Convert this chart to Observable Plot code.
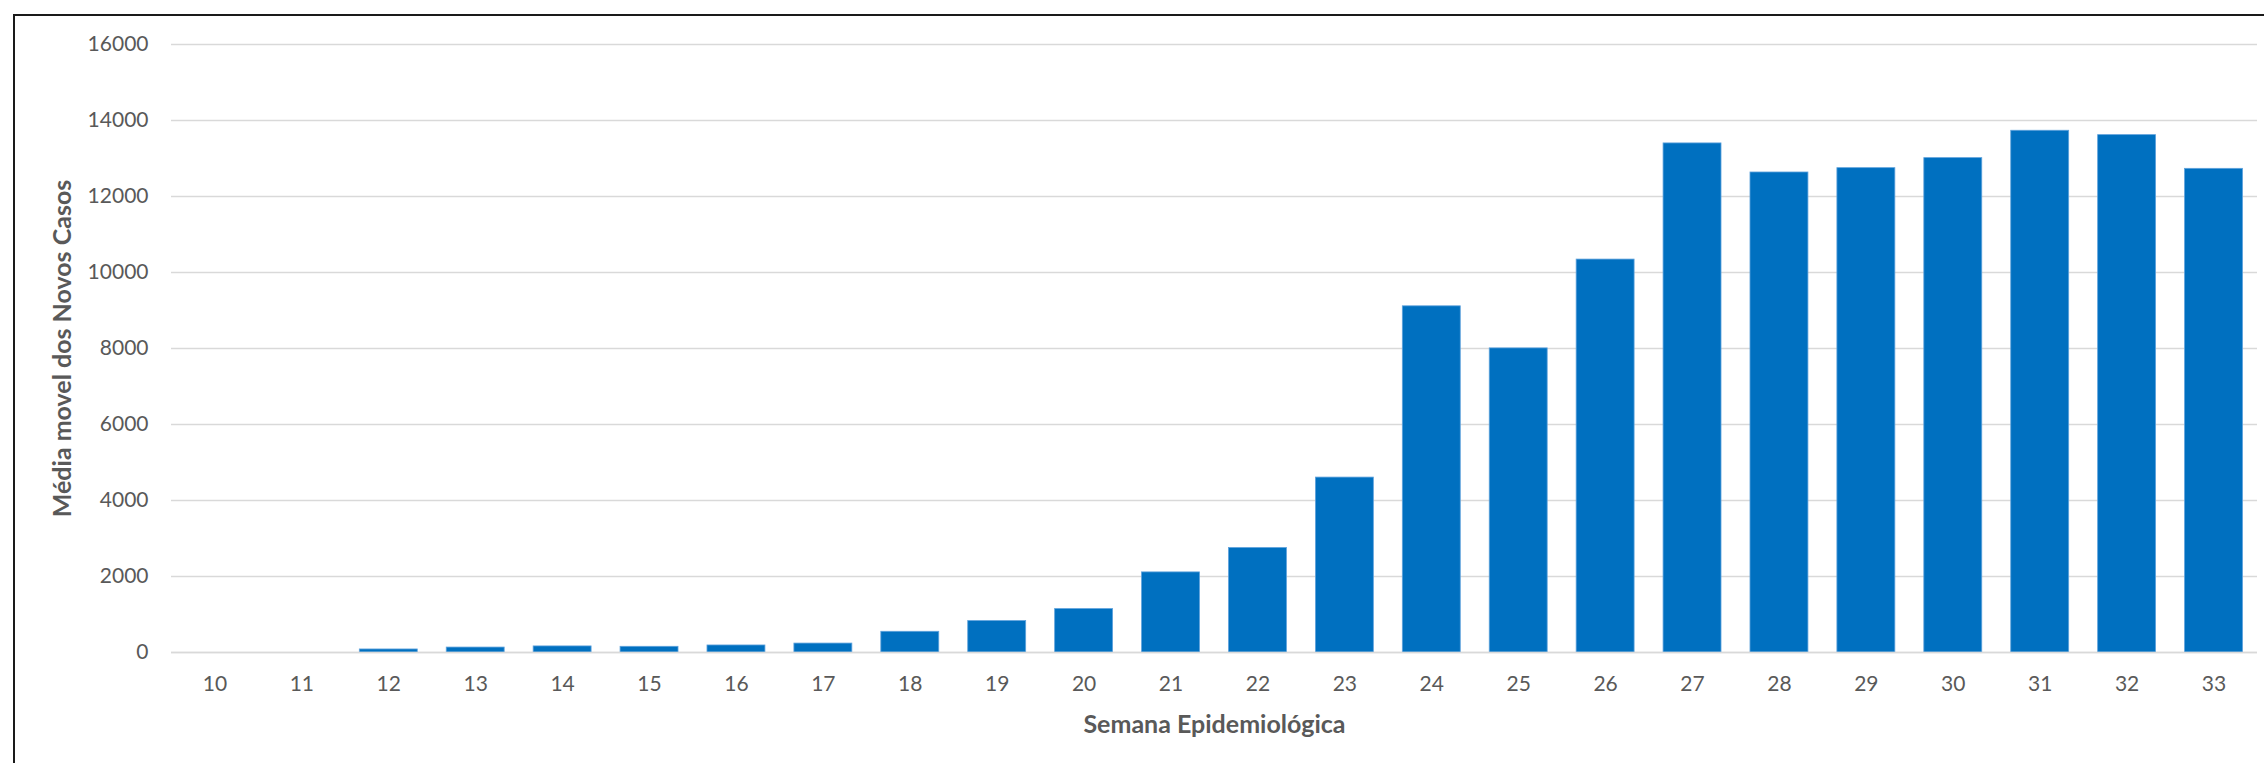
<!DOCTYPE html>
<html>
<head>
<meta charset="utf-8">
<script src="https://cdn.jsdelivr.net/npm/d3@7"></script>
<script src="https://cdn.jsdelivr.net/npm/@observablehq/plot@0.6"></script>
<style>
  html, body { margin: 0; padding: 0; background: #fff; }
  #wrap { position: relative; width: 2264px; height: 763px; overflow: hidden; background: #fff; }
  #frame { position: absolute; left: 13px; top: 14px; width: 3000px; height: 2000px; border-top: 2px solid #1a1a1a; border-left: 2px solid #1a1a1a; box-sizing: border-box; }
  #chart { position: absolute; left: 0; top: 0; }
</style>
</head>
<body>
<div id="wrap"><div id="frame"></div><div id="chart"></div></div>
<script>
const semanas = [10, 11, 12, 13, 14, 15, 16, 17, 18, 19, 20, 21, 22, 23, 24, 25, 26, 27, 28, 29, 30, 31, 32, 33];
const mediaMovel = [0, 0, 80, 130, 160, 150, 185, 235, 545, 827, 1143, 2108, 2750, 4603, 9110, 8003, 10340, 13397, 12632, 12746, 13010, 13730, 13615, 12728];
const yTicks = [0, 2000, 4000, 6000, 8000, 10000, 12000, 14000, 16000];
const xTitle = "Semana Epidemiológica";
const yTitle = "Média movel dos Novos Casos";

const data = semanas.map((s, i) => ({semana: String(s), valor: mediaMovel[i]}));

const chart = Plot.plot({
  width: 2264,
  height: 763,
  marginLeft: 171,
  marginRight: 7,
  marginTop: 44,
  marginBottom: 111,
  style: {fontFamily: "Lato, 'Open Sans', sans-serif", fontSize: "21px", color: "#595959", background: "transparent"},
  x: {domain: semanas.map(String), paddingInner: 1/3, paddingOuter: 1/6, round: false},
  y: {domain: [0, 16000]},
  marks: [
    Plot.gridY(yTicks, {stroke: "#d9d9d9", strokeOpacity: 1, strokeWidth: 1.3}),
    Plot.barY(data, {x: "semana", y: "valor", fill: "#0070C0", stroke: "#5fa2dc", strokeWidth: 0.8}),
    Plot.axisY(yTicks, {tickSize: 0, tickPadding: 23, tickFormat: d => String(d), fill: "#595959",
      label: yTitle, labelAnchor: "center", labelOffset: 118, labelArrow: "none"}),
    Plot.axisX({tickSize: 0, tickPadding: 24, fill: "#595959",
      label: xTitle, labelAnchor: "center", labelOffset: 80, labelArrow: "none"}),
    Plot.ruleY([0], {stroke: "#d9d9d9", strokeWidth: 1.3})
  ]
});
chart.querySelectorAll('[aria-label="y-axis label"] text').forEach(t => {
  t.setAttribute("font-weight", "bold");
  t.setAttribute("font-size", "25px");
  t.textContent = yTitle;
});
chart.querySelectorAll('[aria-label="x-axis label"] text').forEach(t => {
  t.setAttribute("font-weight", "bold");
  t.setAttribute("font-size", "25px");
  t.textContent = xTitle;
});
document.getElementById("chart").appendChild(chart);
</script>
</body>
</html>
